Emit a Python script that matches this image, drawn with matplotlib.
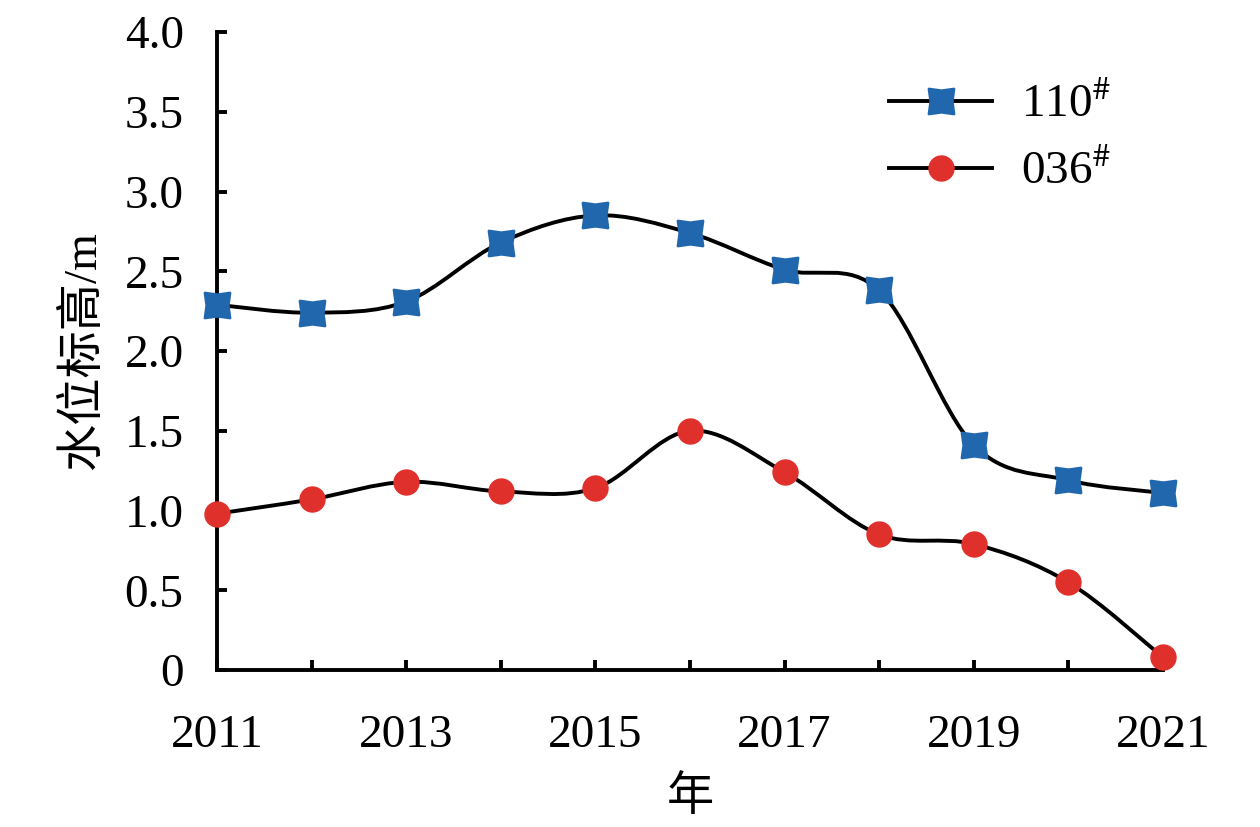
import numpy as np
import matplotlib
matplotlib.use("Agg")
import matplotlib.pyplot as plt
from matplotlib.path import Path
from matplotlib.patches import PathPatch
from matplotlib.lines import Line2D

# ---------------- DATA ----------------

years = [2011, 2012, 2013, 2014, 2015, 2016, 2017, 2018, 2019, 2020, 2021]
well_110 = [2.29, 2.24, 2.31, 2.68, 2.85, 2.74, 2.51, 2.38, 1.41, 1.19, 1.11]
well_036 = [0.98, 1.07, 1.18, 1.12, 1.14, 1.50, 1.24, 0.85, 0.79, 0.55, 0.08]
labels = ["110$^{\\#}$", "036$^{\\#}$"]
y_ticks = [0, 0.5, 1.0, 1.5, 2.0, 2.5, 3.0, 3.5, 4.0]

# ---------------- STYLE ----------------

plt.rcParams["font.family"] = ["Liberation Serif", "Noto Sans CJK SC"]
plt.rcParams["mathtext.fontset"] = "stix"

BLUE = "#2167ad"
RED = "#e0302c"
FS = 34
LW = 2.8

# square with slightly concave sides (Excel-like "x" marker)
c = 0.86
star = Path([(-1, 1), (0, c), (1, 1), (c, 0), (1, -1), (0, -c),
             (-1, -1), (-c, 0), (-1, 1)], closed=True)


def smooth_path(x, y):
    # Catmull-Rom style bezier through the points (like Excel smoothed lines)
    pts = np.column_stack([x, y]).astype(float)
    verts = [pts[0]]
    codes = [Path.MOVETO]
    n = len(pts)
    for i in range(n - 1):
        p0 = pts[i - 1] if i > 0 else pts[i]
        p1 = pts[i]
        p2 = pts[i + 1]
        p3 = pts[i + 2] if i + 2 < n else pts[i + 1]
        verts += [p1 + (p2 - p0) / 6, p2 - (p3 - p1) / 6, p2]
        codes += [Path.CURVE4] * 3
    return Path(verts, codes)


fig = plt.figure(figsize=(12.6, 8.27), dpi=100)
ax = fig.add_axes([0.1722, 0.1898, 0.923 - 0.1722, 0.9613 - 0.1898])

for vals in (well_110, well_036):
    ax.add_patch(PathPatch(smooth_path(years, vals), fill=False,
                           edgecolor="black", lw=LW, zorder=2))

ax.plot(years, well_110, ls="none", marker=star, ms=18, color=BLUE,
        mec=BLUE, mew=2, zorder=3, clip_on=False)
ax.plot(years, well_036, ls="none", marker="o", ms=18, color=RED,
        mec=RED, zorder=3, clip_on=False)

ax.set_xlim(2011, 2021)
ax.set_ylim(0, 4.0)

ax.set_xticks(years)
ax.set_xticklabels([str(y) if y % 2 == 1 else "" for y in years])
ax.set_yticks(y_ticks)
ax.set_yticklabels(["0" if v == 0 else f"{v:.1f}" for v in y_ticks])

for side in ("top", "right"):
    ax.spines[side].set_visible(False)
for side in ("left", "bottom"):
    ax.spines[side].set_linewidth(LW)

ax.tick_params(axis="both", direction="in", length=7, width=LW,
               labelsize=FS)
ax.tick_params(axis="y", pad=24)
ax.tick_params(axis="x", pad=32)

ax.set_xlabel("年", fontsize=FS, labelpad=14)
ax.set_ylabel("水位标高/m", fontsize=FS, labelpad=14)

handles = [
    Line2D([], [], color="black", lw=LW, marker=star, ms=18,
           mfc=BLUE, mec=BLUE, mew=2),
    Line2D([], [], color="black", lw=LW, marker="o", ms=18,
           mfc=RED, mec=RED),
]
ax.legend(handles, labels, loc="upper left", bbox_to_anchor=(0.675, 0.97),
          frameon=False, fontsize=FS, handlelength=2.2, labelspacing=0.5,
          handletextpad=0.6, borderaxespad=0.3)

fig.savefig("out.png", dpi=100)
